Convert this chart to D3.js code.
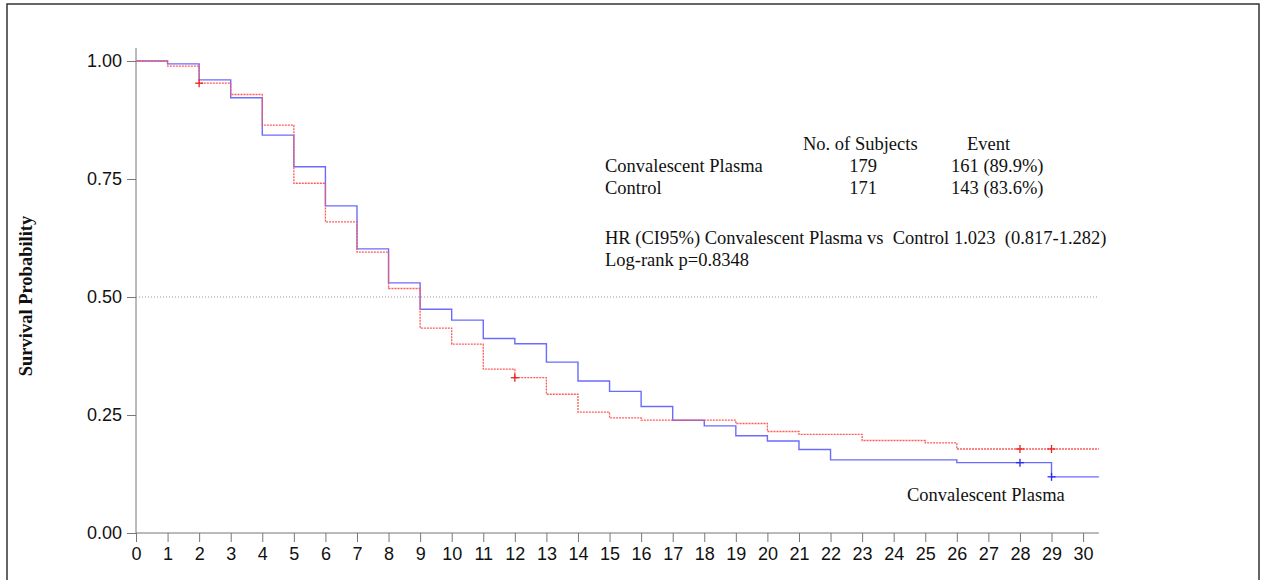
<!DOCTYPE html>
<html>
<head>
<meta charset="utf-8">
<script src="https://cdn.jsdelivr.net/npm/d3@7"></script>
<style>
  body { margin: 0; background: #fff; }
  .axis text { font-family: "Liberation Sans", Arial, sans-serif; font-size: 18px; fill: #111; }
  .axis path, .axis line { stroke: #777; }
  .note { font-family: "Liberation Serif", "Times New Roman", serif; font-size: 18.5px; fill: #111; }
</style>
</head>
<body>
<script>
// step times (days) and survival estimates
var plasmaTimes = [0, 1, 2, 3, 4, 5, 6, 7, 8, 9, 10, 11, 12, 13, 14, 15, 16, 17, 18, 19, 20, 21, 22, 26, 29];
var plasmaSurv  = [1.0, 0.994, 0.960, 0.922, 0.843, 0.776, 0.693, 0.602, 0.530, 0.474, 0.451, 0.412, 0.401, 0.362, 0.322, 0.300, 0.268, 0.239, 0.227, 0.206, 0.195, 0.177, 0.155, 0.149, 0.119];
var controlTimes = [0, 1, 2, 3, 4, 5, 6, 7, 8, 9, 10, 11, 12, 13, 14, 15, 16, 19, 20, 21, 23, 25, 26];
var controlSurv  = [1.0, 0.989, 0.953, 0.929, 0.864, 0.741, 0.659, 0.595, 0.518, 0.434, 0.400, 0.347, 0.329, 0.294, 0.256, 0.244, 0.239, 0.232, 0.215, 0.209, 0.196, 0.191, 0.178];
var plasmaCensor  = [28, 29];
var controlCensor = [2, 12, 28, 29];
var maxTime = 30.5;
var xTicks = d3.range(0, 31);
var yTicks = [0, 0.25, 0.5, 0.75, 1.0];

var legendHead = ["No. of Subjects", "Event"];
var legendRows = [
  ["Convalescent Plasma", "179", "161 (89.9%)"],
  ["Control", "171", "143 (83.6%)"]
];
var hrText = "HR (CI95%) Convalescent Plasma vs  Control 1.023  (0.817-1.282)";
var pText = "Log-rank p=0.8348";

var W = 1268, H = 580;
var svg = d3.select("body").append("svg").attr("width", W).attr("height", H);

// outer frame
svg.append("rect").attr("x", 7).attr("y", 4).attr("width", 1252).attr("height", 600)
  .attr("fill", "none").attr("stroke", "#333").attr("stroke-width", 1.5);

var x = d3.scaleLinear().domain([0, maxTime]).range([136, 136 + maxTime * 31.57]);
var y = d3.scaleLinear().domain([0, 1]).range([533, 61]);

// axes
var xAxis = svg.append("g").attr("class", "axis").attr("transform", "translate(0,533)")
  .call(d3.axisBottom(x).tickValues(xTicks).tickSize(9).tickPadding(5).tickFormat(d3.format("d")));
var yAxis = svg.append("g").attr("class", "axis").attr("transform", "translate(136,0)")
  .call(d3.axisLeft(y).tickValues(yTicks).tickSize(9).tickPadding(5).tickFormat(d3.format(".2f")));
xAxis.select(".domain").attr("d", "M" + x(0) + ",0H" + x(maxTime));
yAxis.select(".domain").attr("d", "M0," + y(0) + "V48");

// median reference line
svg.append("line").attr("x1", x(0)).attr("x2", x(maxTime)).attr("y1", y(0.5)).attr("y2", y(0.5))
  .attr("stroke", "#999").attr("stroke-width", 1).attr("stroke-dasharray", "1,2");

function stepPoints(times, surv) {
  var pts = [];
  for (var i = 0; i < times.length; i++) {
    pts.push([times[i], surv[i]]);
  }
  pts.push([maxTime, surv[surv.length - 1]]);
  return pts;
}
function survAt(times, surv, t) {
  var v = surv[0];
  for (var i = 0; i < times.length; i++) if (times[i] <= t) v = surv[i];
  return v;
}

var line = d3.line().x(d => x(d[0])).y(d => y(d[1])).curve(d3.curveStepAfter);

svg.append("path").datum(stepPoints(plasmaTimes, plasmaSurv))
  .attr("d", line).attr("fill", "none").attr("stroke", "#6b6bff").attr("stroke-width", 1.4);
svg.append("path").datum(stepPoints(controlTimes, controlSurv))
  .attr("d", line).attr("fill", "none").attr("stroke", "#ff5a5a").attr("stroke-width", 1.3)
  .attr("stroke-dasharray", "2,1");

function censorMarks(times, surv, list, color) {
  var g = svg.append("g").attr("stroke", color).attr("stroke-width", 1.3);
  list.forEach(function(t) {
    var cx = x(t), cy = y(survAt(times, surv, t));
    g.append("line").attr("x1", cx - 4).attr("x2", cx + 4).attr("y1", cy).attr("y2", cy);
    g.append("line").attr("x1", cx).attr("x2", cx).attr("y1", cy - 4).attr("y2", cy + 4);
  });
}
censorMarks(plasmaTimes, plasmaSurv, plasmaCensor, "#2a2aee");
censorMarks(controlTimes, controlSurv, controlCensor, "#ee2020");

// y label
svg.append("text").attr("transform", "translate(32,296) rotate(-90)")
  .attr("text-anchor", "middle").attr("class", "note")
  .style("font-weight", "bold").style("font-size", "18.5px").text("Survival Probability");

// legend table
svg.append("text").attr("class", "note").attr("x", 803).attr("y", 150).text(legendHead[0]);
svg.append("text").attr("class", "note").attr("x", 967).attr("y", 150).text(legendHead[1]);
legendRows.forEach(function(r, i) {
  var yy = 172 + i * 22;
  svg.append("text").attr("class", "note").attr("x", 605).attr("y", yy).text(r[0]);
  svg.append("text").attr("class", "note").attr("x", 863).attr("y", yy).attr("text-anchor", "middle").text(r[1]);
  svg.append("text").attr("class", "note").attr("x", 951).attr("y", yy).text(r[2]);
});
svg.append("text").attr("class", "note").attr("x", 605).attr("y", 244).style("white-space", "pre")
  .attr("xml:space", "preserve").text(hrText);
svg.append("text").attr("class", "note").attr("x", 605).attr("y", 266).text(pText);

svg.append("text").attr("class", "note").attr("x", 907).attr("y", 501).text("Convalescent Plasma");
</script>
</body>
</html>
